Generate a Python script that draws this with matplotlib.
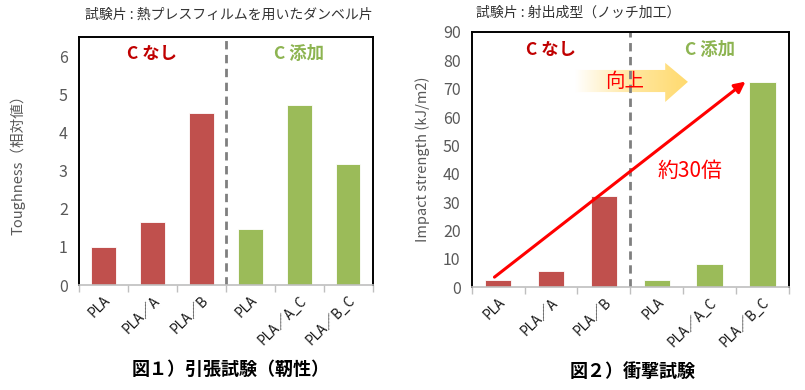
import numpy as np
import matplotlib.pyplot as plt
from matplotlib.path import Path
from matplotlib.patches import PathPatch
from matplotlib.colors import LinearSegmentedColormap

plt.rcParams['font.family'] = ['Noto Sans CJK JP', 'DejaVu Sans']

labels = ['PLA', 'PLA／A', 'PLA／B', 'PLA', 'PLA／A_C', 'PLA／B_C']
toughness = [1.0, 1.65, 4.5, 1.48, 4.72, 3.18]
impact = [2.5, 5.8, 32.0, 2.5, 8.2, 72.5]
colors = ['#C0504D'] * 3 + ['#9BBB59'] * 3

RED_TXT = '#C00000'
GREEN_TXT = '#8DB451'
GRAY = '#595959'

fig = plt.figure(figsize=(8.05, 3.9), dpi=100)
ax1 = fig.add_axes([0.098, 0.269, 0.365, 0.636])
ax2 = fig.add_axes([0.586, 0.264, 0.394, 0.654])


def style(ax, values, ymax, yticks):
    x = np.arange(len(values))
    ax.bar(x, values, width=0.5, color=colors, edgecolor='white', linewidth=0.6)
    ax.set_xlim(-0.5, len(values) - 0.5)
    ax.set_ylim(0, ymax)
    ax.set_yticks(yticks)
    ax.tick_params(axis='y', length=0, labelsize=11.5, labelcolor=GRAY, pad=8)
    ax.set_xticks(x)
    ax.set_xticklabels(labels, rotation=45, ha='right', rotation_mode='anchor',
                       fontsize=9.8, color='#1a1a1a')
    ax.tick_params(axis='x', length=0, pad=6)
    ax.set_xticks(np.arange(-0.5, len(values)), minor=True)
    ax.tick_params(axis='x', which='minor', length=5, color='#BFBFBF', width=1)
    for s in ['left', 'right', 'top']:
        ax.spines[s].set_color('black')
        ax.spines[s].set_linewidth(1.4)
    ax.spines['bottom'].set_color('#BFBFBF')
    ax.spines['bottom'].set_linewidth(1.2)
    ax.axvline(2.5, color='#7F7F7F', linestyle=(0, (3, 2)), linewidth=2)
    ax.text(0.25, 0.93, 'C なし', transform=ax.transAxes, ha='center', va='center',
            color=RED_TXT, fontsize=12.5, fontweight='bold')
    ax.text(0.75, 0.93, 'C 添加', transform=ax.transAxes, ha='center', va='center',
            color=GREEN_TXT, fontsize=12.5, fontweight='bold')


style(ax1, toughness, 6.5, [0, 1, 2, 3, 4, 5, 6])
style(ax2, impact, 90, np.arange(0, 91, 10))

ax1.set_ylabel('Toughness（相対値）', color=GRAY, fontsize=10.5, labelpad=24)
ax2.set_ylabel('Impact strength (kJ/m2)', color=GRAY, fontsize=10.5, labelpad=9)

fig.text(0.284, 0.962, '試験片 : 熱プレスフィルムを用いたダンベル片', ha='center', va='center',
         fontsize=10, color='#333333')
fig.text(0.718, 0.968, '試験片 : 射出成型（ノッチ加工）', ha='center', va='center',
         fontsize=10, color='#333333')
fig.text(0.286, 0.052, '図１）引張試験（靭性）', ha='center', va='center',
         fontsize=13, fontweight='bold', color='black')
fig.text(0.786, 0.047, '図２）衝撃試験', ha='center', va='center',
         fontsize=13, fontweight='bold', color='black')

# gradient "向上" arrow
verts = [(1.45, 68.8), (3.16, 68.8), (3.16, 65.3), (3.59, 72.4),
         (3.16, 79.1), (3.16, 76.6), (1.45, 76.6), (1.45, 68.8)]
codes = [Path.MOVETO] + [Path.LINETO] * 6 + [Path.CLOSEPOLY]
clip = PathPatch(Path(verts, codes), facecolor='none', edgecolor='none',
                 transform=ax2.transData)
ax2.add_patch(clip)
cmap = LinearSegmentedColormap.from_list('g', ['#FFFFFF', '#FFE7A0', '#FFDA6E'])
grad = np.linspace(0, 1, 256).reshape(1, -1)
im = ax2.imshow(grad, cmap=cmap, extent=[1.45, 3.59, 65.3, 79.1],
                aspect='auto', zorder=1)
im.set_clip_path(clip)
ax2.set_xlim(-0.5, 5.5)
ax2.set_ylim(0, 90)
ax2.text(2.4, 72.6, '向上', color='#FF0000', fontsize=14,
         ha='center', va='center', zorder=3)

# red arrow
ax2.annotate('', xy=(4.68, impact[5]), xytext=(-0.07, 3.5),
             arrowprops=dict(arrowstyle='-|>', color='#FF0000', lw=2.2,
                             mutation_scale=16, shrinkA=0, shrinkB=0), zorder=4)
ax2.text(3.63, 41, '約30倍', color='#FF0000', fontsize=15, ha='center', va='center')

fig.savefig('out.png', dpi=100)
